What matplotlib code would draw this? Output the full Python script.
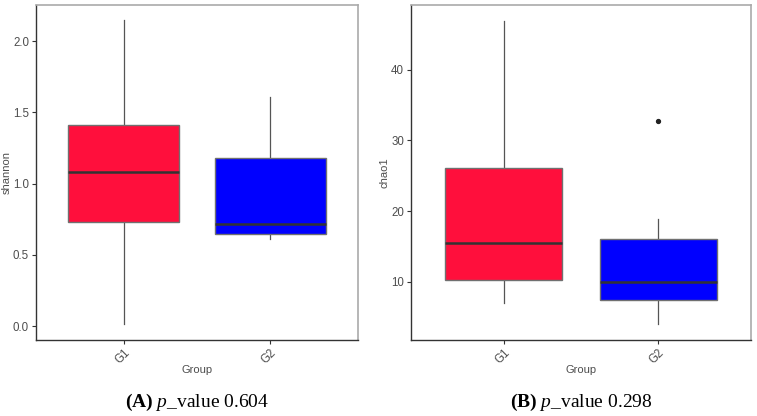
import matplotlib
matplotlib.use("Agg")
import matplotlib.pyplot as plt

groups = ["G1", "G2"]
colors = ["#FF0F3C", "#0000FF"]

# box stats: whislo, q1, med, q3, whishi, outliers
shannon_stats = [
    (0.014, 0.73, 1.08, 1.41, 2.147, []),
    (0.608, 0.648, 0.716, 1.18, 1.61, []),
]
chao1_stats = [
    (7.08, 10.24, 15.5, 26.15, 46.9, []),
    (4.1, 7.5, 10.0, 16.04, 18.95, [32.8]),
]

plt.rcParams['font.family'] = ['Liberation Sans', 'DejaVu Sans']
plt.rcParams['mathtext.fontset'] = 'custom'
plt.rcParams['mathtext.rm'] = 'Liberation Serif'
plt.rcParams['mathtext.it'] = 'Liberation Serif:italic'
plt.rcParams['mathtext.bf'] = 'Liberation Serif:bold'

fig = plt.figure(figsize=(7.57, 4.16), dpi=100)
ax1 = fig.add_axes([36/757, 1-340/416, 322/757, 335/416])
ax2 = fig.add_axes([411/757, 1-340/416, 340/757, 335/416])


def draw(ax, stats, ylabel, ylim, yticks, caption, ylab_x):
    bxp_stats = []
    for (lo, q1, med, q3, hi, fl), name in zip(stats, groups):
        bxp_stats.append(dict(whislo=lo, q1=q1, med=med, q3=q3, whishi=hi,
                              fliers=fl, label=name))
    parts = ax.bxp(bxp_stats, positions=[1, 2], widths=0.76, patch_artist=True,
                   showcaps=False,
                   boxprops=dict(edgecolor='#707070', linewidth=1.0),
                   whiskerprops=dict(color='#555555', linewidth=0.9),
                   medianprops=dict(color='#333333', linewidth=1.8),
                   flierprops=dict(marker='o', markersize=2.8,
                                   markerfacecolor='#222222',
                                   markeredgecolor='#222222'))
    for box, c in zip(parts['boxes'], colors):
        box.set_facecolor(c)
    for w in parts['whiskers']:
        w.set_zorder(0.5)

    ax.set_xlim(0.4, 2.6)
    ax.set_ylim(*ylim)
    ax.set_yticks(yticks)
    ax.set_xticks([1, 2])
    ax.set_xticklabels(groups, rotation=45, ha='right', va='top',
                       rotation_mode='anchor')
    ax.tick_params(labelsize=8.3, labelcolor='#4D4D4D', length=3,
                   width=0.8, color='#333333', pad=2)
    ax.set_xlabel("Group", fontsize=8, color='#4D4D4D')
    ax.xaxis.set_label_coords(0.5, -30/335)
    ax.xaxis.label.set_va('center')
    ax.set_ylabel(ylabel, fontsize=8, color='#4D4D4D')
    ax.yaxis.set_label_coords(ylab_x, 0.5)
    ax.yaxis.label.set_va('center')
    for s in ['top', 'right']:
        ax.spines[s].set_color('#AAAAAA')
        ax.spines[s].set_linewidth(1.2)
    for s in ['left', 'bottom']:
        ax.spines[s].set_color('#333333')
        ax.spines[s].set_linewidth(1.0)
    bbox = ax.get_position()
    fig.text(bbox.x0 + bbox.width / 2, 1 - 402/416, caption,
             ha='center', va='center', fontsize=14,
             family='Liberation Serif')


draw(ax1, shannon_stats, "shannon", (-0.098, 2.253),
     [0.0, 0.5, 1.0, 1.5, 2.0], r"$\mathbf{(A)}$ $\mathit{p}$_value 0.604",
     -29/322)
draw(ax2, chao1_stats, "chao1", (1.8, 49.14),
     [10, 20, 30, 40], r"$\mathbf{(B)}$ $\mathit{p}$_value 0.298",
     -26/340)

fig.savefig("out.png", dpi=100)
